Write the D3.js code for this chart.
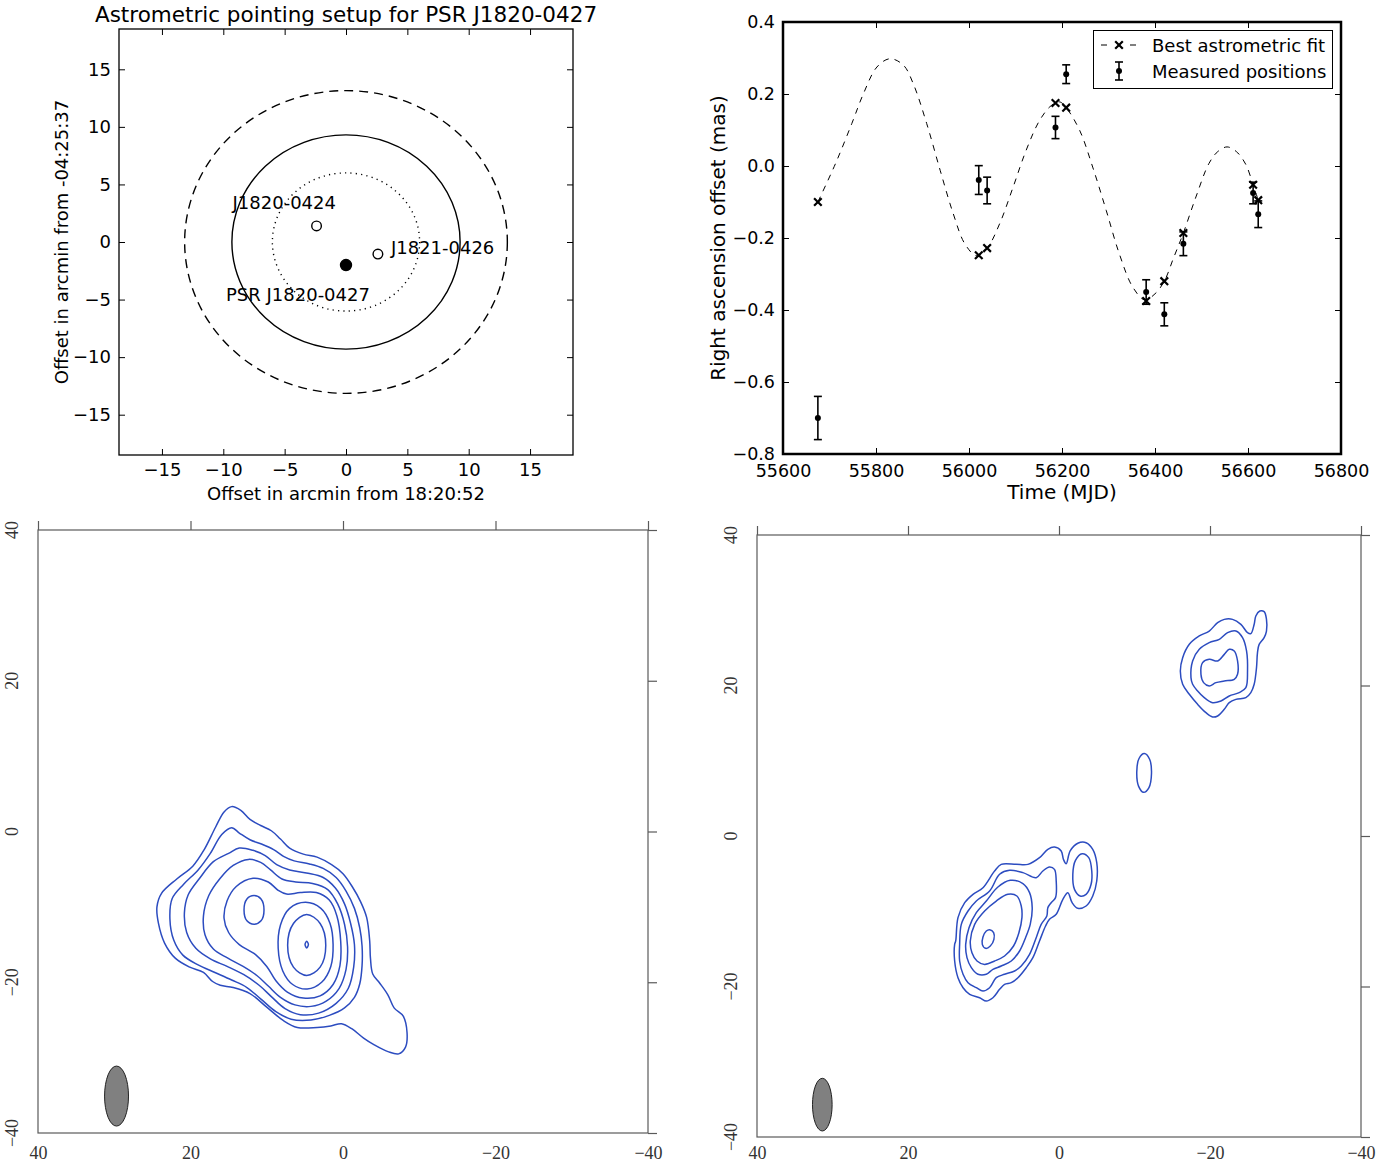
<!DOCTYPE html>
<html><head><meta charset="utf-8">
<script src="https://cdn.jsdelivr.net/npm/d3@7"></script>
<style>body{margin:0;background:#fff}svg{display:block}</style>
</head><body>
<svg id="c" width="1393" height="1166"></svg>
<script>
// ================= DATA =================
// Panel 1: pointing setup
const pointingTicks = [-15,-10,-5,0,5,10,15];
const ringRadius = [13.15, 9.3, 6.0];            // outer, middle, inner beam rings (arcmin)
const sourceNames = ["PSR J1820-0427","J1820-0424","J1821-0426"];
const sourceX = [0.0, -2.4, 2.6];
const sourceY = [-2.0, 1.4, -1.05];

// Panel 2: astrometric fit
const mjdTicks = [55600,55800,56000,56200,56400,56600,56800];
const raTicks = [0.4,0.2,0.0,-0.2,-0.4,-0.6,-0.8];
const epochMJD    = [55675,56021,56039,56186,56209,56381,56420,56461,56611,56622];
const measuredRA  = [-0.700,-0.039,-0.068,0.107,0.255,-0.350,-0.412,-0.216,-0.075,-0.134];
const measuredErr = [0.060,0.040,0.037,0.031,0.026,0.034,0.032,0.033,0.030,0.037];
const fitRA       = [-0.100,-0.248,-0.228,0.175,0.162,-0.375,-0.320,-0.186,-0.052,-0.095];
const curveMJD = [55675,55713,55748,55773,55802,55830,55859,55880,55909,55938,55966,55991,56016,56039,56066,56095,56123,56152,56177,56195,56209,56238,56266,56295,56323,56352,56378,56400,56420,56440,56461,56488,56516,56535,56555,56575,56595,56611,56622];
const curveRA  = [-0.100,0.007,0.118,0.201,0.275,0.298,0.280,0.229,0.118,-0.012,-0.132,-0.216,-0.249,-0.228,-0.160,-0.058,0.044,0.127,0.168,0.178,0.162,0.099,-0.003,-0.123,-0.243,-0.336,-0.372,-0.355,-0.320,-0.255,-0.186,-0.086,0.007,0.040,0.053,0.040,0.005,-0.052,-0.095];

// Panels 3 & 4: contour maps (mas offsets)
const mapTicks = [40,20,0,-20,-40];
const leftContours = [
  [[14.6,3.3],[13.4,2.8],[12.2,1.6],[10.8,0.8],[9.4,0.1],[8.2,-1.0],[7.0,-2.2],[5.2,-3.0],[3.4,-3.4],[1.5,-4.4],[0.0,-5.6],[-1.2,-7.3],[-2.3,-9.3],[-3.1,-11.4],[-3.5,-14.5],[-3.6,-16.8],[-3.9,-18.9],[-4.8,-20.1],[-5.9,-21.7],[-6.7,-23.4],[-7.9,-24.5],[-8.4,-26.7],[-8.2,-28.6],[-7.3,-29.5],[-5.9,-29.2],[-4.1,-28.3],[-2.7,-27.4],[-1.2,-26.2],[0.2,-25.5],[1.6,-25.8],[3.4,-26.0],[6.0,-26.0],[7.8,-25.1],[10.0,-23.3],[12.2,-21.5],[14.4,-20.7],[16.1,-20.4],[17.1,-19.9],[18.3,-18.7],[20.1,-18.0],[22.0,-16.8],[23.4,-14.8],[24.2,-12.2],[24.4,-10.0],[23.8,-8.2],[21.8,-6.3],[19.7,-4.6],[18.2,-2.4],[16.7,0.6],[15.6,2.6]],
  [[14.6,0.5],[13.6,-0.2],[12.2,-1.1],[10.6,-1.7],[9.1,-2.4],[7.8,-3.3],[6.4,-3.9],[4.4,-4.3],[2.6,-4.9],[0.9,-6.1],[-0.4,-7.9],[-1.5,-10.2],[-2.2,-12.8],[-2.5,-15.2],[-2.5,-17.8],[-2.2,-20.2],[-1.5,-22.0],[-0.2,-23.4],[1.8,-24.4],[4.2,-25.0],[6.8,-24.9],[8.8,-23.9],[10.8,-22.2],[12.6,-20.7],[14.6,-19.7],[16.8,-18.7],[19.0,-17.7],[21.0,-16.4],[22.2,-14.4],[22.7,-11.6],[22.4,-8.9],[20.9,-7.0],[19.0,-5.1],[17.4,-2.9],[15.9,-0.4]],
  [[15.0,-2.9],[13.6,-2.2],[11.8,-2.5],[10.2,-3.2],[8.7,-4.4],[7.0,-5.1],[4.8,-5.5],[2.6,-6.1],[1.0,-7.5],[-0.2,-9.6],[-1.0,-12.2],[-1.5,-15.0],[-1.4,-18.0],[-0.7,-20.8],[0.9,-22.8],[3.2,-24.1],[5.6,-24.3],[7.6,-23.5],[9.4,-21.9],[11.0,-20.4],[13.0,-19.0],[15.2,-17.9],[17.4,-16.9],[19.3,-15.5],[20.5,-13.4],[20.8,-10.8],[20.3,-8.4],[18.8,-6.2],[17.0,-4.0]],
  [[12.4,-3.7],[10.8,-4.1],[9.5,-5.1],[8.0,-6.3],[6.2,-6.7],[4.0,-6.9],[2.0,-7.7],[0.7,-9.6],[-0.2,-12.3],[-0.6,-15.3],[-0.4,-18.3],[0.5,-20.8],[2.2,-22.5],[4.2,-23.2],[6.3,-23.0],[8.2,-22.0],[9.8,-20.5],[11.3,-19.1],[13.1,-17.9],[15.1,-16.8],[17.0,-15.6],[18.1,-13.7],[18.3,-11.2],[17.6,-8.5],[16.1,-6.2],[14.4,-4.5]],
  [[15.6,-11.5],[15.2,-9.2],[14.0,-7.3],[11.8,-6.2],[9.8,-6.7],[8.5,-7.8],[7.4,-8.3],[5.6,-8.1],[3.5,-8.1],[1.8,-9.1],[0.8,-11.2],[0.3,-14.6],[0.4,-17.8],[1.3,-20.3],[3.0,-21.8],[5.2,-22.1],[7.3,-21.3],[8.8,-19.8],[10.0,-17.9],[11.5,-16.3],[13.6,-15.0],[15.0,-13.4]],
  [[11.67,-8.5],[10.75,-8.95],[10.36,-10.4],[10.75,-11.85],[11.67,-12.3],[12.6,-11.85],[12.98,-10.4],[12.6,-8.95]],
  [[4.9,-9.4],[2.9,-10.2],[1.7,-12.2],[1.3,-15.0],[1.6,-17.9],[2.8,-20.0],[4.7,-20.9],[6.6,-20.3],[7.9,-18.5],[8.5,-15.5],[8.2,-12.4],[7.0,-10.2]],
  [[4.76,-11.0],[3.0,-12.2],[2.26,-15.1],[3.0,-18.0],[4.76,-19.1],[6.5,-18.0],[7.26,-15.1],[6.5,-12.2]],
  [[4.76,-14.56],[4.54,-15.0],[4.76,-15.44],[4.98,-15.0]]
];
const leftBeam = [29.7, -35.1, 1.57, 3.98];   // centre x, centre y, semi-axis x, semi-axis y (mas)

const rightContours = [
  [[13.68,-13.95],[13.38,-10.85],[12.49,-8.86],[11.39,-7.75],[10.07,-6.87],[8.53,-4.65],[7.65,-3.77],[5.66,-3.77],[4.12,-3.77],[2.58,-2.88],[1.48,-1.77],[0.60,-1.46],[-0.29,-1.99],[-0.59,-3.10],[-0.95,-3.68],[-1.48,-1.99],[-2.49,-0.97],[-3.59,-0.89],[-4.47,-1.77],[-5.00,-3.54],[-5.00,-5.98],[-4.47,-7.97],[-3.59,-9.30],[-2.49,-9.61],[-1.74,-8.86],[-1.17,-7.53],[-0.51,-8.42],[0.37,-10.41],[1.26,-11.07],[1.78,-11.96],[2.58,-13.95],[3.46,-16.17],[4.34,-17.50],[5.44,-18.83],[6.32,-19.49],[7.21,-19.71],[7.87,-20.38],[8.75,-21.49],[9.63,-21.93],[10.51,-21.49],[11.83,-21.04],[12.71,-20.16],[13.38,-18.83],[13.82,-16.61],[13.82,-14.40]],
  [[13.16,-14.40],[12.94,-11.74],[12.05,-9.97],[10.95,-8.64],[9.19,-7.31],[7.87,-5.09],[6.54,-4.56],[4.78,-4.87],[3.02,-5.54],[2.14,-4.65],[1.26,-4.12],[0.60,-4.43],[0.37,-5.98],[0.46,-8.19],[1.04,-8.86],[1.48,-9.52],[1.61,-10.63],[2.36,-11.74],[3.02,-13.51],[3.90,-15.73],[5.00,-17.28],[5.88,-17.94],[7.21,-18.38],[8.31,-18.83],[9.19,-20.16],[10.07,-20.60],[10.95,-20.16],[12.05,-19.49],[12.71,-18.38],[13.16,-16.61]],
  [[12.36,-14.40],[11.92,-12.18],[10.95,-10.19],[9.63,-8.64],[8.09,-6.78],[6.46,-5.89],[4.78,-6.33],[3.90,-7.53],[3.55,-9.52],[3.81,-11.74],[4.43,-13.51],[5.22,-15.28],[6.32,-16.61],[7.65,-17.28],[8.75,-17.72],[9.63,-18.38],[10.73,-18.38],[11.61,-17.50],[12.19,-16.17]],
  [[11.75,-13.95],[11.17,-11.74],[9.85,-9.97],[8.31,-8.64],[6.77,-7.75],[5.58,-7.97],[5.00,-9.30],[4.91,-10.85],[5.31,-12.85],[6.02,-14.62],[7.21,-15.95],[8.53,-16.61],[9.85,-17.06],[10.86,-16.61],[11.53,-15.51]],
  [[9.19,-12.45],[8.66,-12.85],[8.62,-13.73],[9.10,-14.62],[9.72,-14.93],[10.16,-14.40],[10.07,-13.42],[9.63,-12.63]],
  [[-3.06,-2.35],[-3.94,-2.88],[-4.34,-4.65],[-4.25,-6.42],[-3.59,-7.75],[-2.80,-7.97],[-2.05,-7.09],[-1.83,-5.09],[-2.18,-3.23]],
  [[-11.3,10.95],[-10.6,10.3],[-10.3,8.5],[-10.55,6.6],[-11.2,5.8],[-11.9,6.4],[-12.25,8.3],[-12.0,10.2]],
  [[-16.07,21.93],[-16.38,23.70],[-17.26,25.47],[-18.58,26.58],[-19.90,27.24],[-21.01,28.35],[-21.89,28.79],[-22.99,28.79],[-24.09,28.13],[-24.97,27.02],[-25.41,26.89],[-25.85,28.13],[-26.07,29.24],[-26.60,29.90],[-27.17,29.81],[-27.48,28.79],[-27.48,27.24],[-27.17,26.36],[-26.51,25.47],[-26.29,24.37],[-26.16,22.37],[-25.85,20.16],[-25.41,19.05],[-24.75,18.39],[-23.43,18.16],[-22.55,17.72],[-21.89,16.83],[-21.01,15.95],[-20.34,15.82],[-19.46,16.39],[-18.36,17.50],[-17.26,18.83],[-16.38,20.16]],
  [[-17.48,21.04],[-17.70,23.26],[-18.58,24.81],[-19.90,25.69],[-21.23,26.14],[-22.33,27.02],[-23.43,27.24],[-24.31,26.36],[-24.84,24.59],[-24.97,21.93],[-24.75,19.71],[-23.87,19.05],[-22.55,18.61],[-21.45,17.94],[-20.34,17.72],[-19.24,18.39],[-18.36,19.27],[-17.70,20.16]],
  [[-18.80,21.49],[-19.02,23.04],[-19.90,23.48],[-21.01,23.26],[-21.89,24.14],[-22.55,24.81],[-23.21,24.59],[-23.65,23.26],[-23.65,21.49],[-23.21,20.82],[-21.89,20.60],[-20.78,20.38],[-19.90,19.94],[-19.15,20.38]]
];
const rightBeam = [31.35, -35.7, 1.3, 3.5];

// ================= DRAWING =================
const svg = d3.select("#c");
const SANS = "'DejaVu Sans', 'Bitstream Vera Sans', sans-serif";
const SERIF = "'Liberation Serif', 'DejaVu Serif', serif";
const fmtInt = d3.format("d");

function styleAxis(g, size) {
  g.select(".domain").remove();
  g.selectAll("line").attr("stroke", "#000").attr("stroke-width", 1);
  g.selectAll("text").attr("font-family", SANS).attr("font-size", size).attr("fill", "#000");
}

// ---------- Panel 1 ----------
(function () {
  const L = 119, R = 573, T = 29, B = 455;
  const x = d3.scaleLinear([-18.5, 18.5], [L, R]);
  const y = d3.scaleLinear([-18.5, 18.5], [B, T]);
  const g = svg.append("g");

  g.append("g").attr("transform", `translate(0,${B})`)
    .call(d3.axisBottom(x).tickValues(pointingTicks).tickSize(-6).tickPadding(8).tickFormat(fmtInt))
    .call(a => styleAxis(a, 18));
  g.append("g").attr("transform", `translate(0,${T})`)
    .call(d3.axisTop(x).tickValues(pointingTicks).tickSize(-6).tickFormat(""))
    .call(a => styleAxis(a, 18));
  g.append("g").attr("transform", `translate(${L},0)`)
    .call(d3.axisLeft(y).tickValues(pointingTicks).tickSize(-6).tickPadding(8).tickFormat(fmtInt))
    .call(a => styleAxis(a, 18));
  g.append("g").attr("transform", `translate(${R},0)`)
    .call(d3.axisRight(y).tickValues(pointingTicks).tickSize(-6).tickFormat(""))
    .call(a => styleAxis(a, 18));

  g.append("rect").attr("x", L).attr("y", T).attr("width", R - L).attr("height", B - T)
    .attr("fill", "none").attr("stroke", "#000").attr("stroke-width", 1.3);

  const dashes = ["9,6", null, "1.2,4.2"];
  ringRadius.forEach((r, i) => {
    g.append("ellipse").attr("cx", x(0)).attr("cy", y(0))
      .attr("rx", x(r) - x(0)).attr("ry", y(0) - y(r))
      .attr("fill", "none").attr("stroke", "#000").attr("stroke-width", 1.4)
      .attr("stroke-dasharray", dashes[i]);
  });

  const labelOff = [[-120, 36], [-84, -17], [13, 0]];
  sourceNames.forEach((n, i) => {
    const cx = x(sourceX[i]), cy = y(sourceY[i]);
    g.append("circle").attr("cx", cx).attr("cy", cy).attr("r", i === 0 ? 5.5 : 4.8)
      .attr("fill", i === 0 ? "#000" : "#fff").attr("stroke", "#000").attr("stroke-width", 1.4);
    g.append("text").attr("x", cx + labelOff[i][0]).attr("y", cy + labelOff[i][1])
      .attr("font-family", SANS).attr("font-size", 18).text(n);
  });

  g.append("text").attr("x", (L + R) / 2).attr("y", 22).attr("text-anchor", "middle")
    .attr("font-family", SANS).attr("font-size", 21.5).text("Astrometric pointing setup for PSR J1820-0427");
  g.append("text").attr("x", (L + R) / 2).attr("y", 500).attr("text-anchor", "middle")
    .attr("font-family", SANS).attr("font-size", 18).text("Offset in arcmin from 18:20:52");
  g.append("text").attr("transform", `translate(68,${(T + B) / 2}) rotate(-90)`).attr("text-anchor", "middle")
    .attr("font-family", SANS).attr("font-size", 18).text("Offset in arcmin from -04:25:37");
})();

// ---------- Panel 2 ----------
(function () {
  const L = 783, R = 1341, T = 22, B = 454;
  const x = d3.scaleLinear([55600, 56800], [L, R]);
  const y = d3.scaleLinear([-0.8, 0.4], [B, T]);
  const g = svg.append("g");
  const fmtY = d3.format(".1f");

  g.append("g").attr("transform", `translate(0,${B})`)
    .call(d3.axisBottom(x).tickValues(mjdTicks).tickSize(-6).tickPadding(11).tickFormat(fmtInt))
    .call(a => styleAxis(a, 17.5));
  g.append("g").attr("transform", `translate(0,${T})`)
    .call(d3.axisTop(x).tickValues(mjdTicks).tickSize(-6).tickFormat(""))
    .call(a => styleAxis(a, 18));
  g.append("g").attr("transform", `translate(${L},0)`)
    .call(d3.axisLeft(y).tickValues(raTicks).tickSize(-6).tickPadding(8).tickFormat(fmtY))
    .call(a => styleAxis(a, 17.5));
  g.append("g").attr("transform", `translate(${R},0)`)
    .call(d3.axisRight(y).tickValues(raTicks).tickSize(-6).tickFormat(""))
    .call(a => styleAxis(a, 18));

  // fit curve
  const line = d3.line().x((d, i) => x(curveMJD[i])).y(d => y(d)).curve(d3.curveCatmullRom.alpha(0.5));
  g.append("path").attr("d", line(curveRA)).attr("fill", "none").attr("stroke", "#000")
    .attr("stroke-width", 1).attr("stroke-dasharray", "6,6");

  // measured with error bars
  epochMJD.forEach((m, i) => {
    const cx = x(m), y0 = y(measuredRA[i] + measuredErr[i]), y1 = y(measuredRA[i] - measuredErr[i]);
    g.append("line").attr("x1", cx).attr("x2", cx).attr("y1", y0).attr("y2", y1).attr("stroke", "#000").attr("stroke-width", 1.6);
    [y0, y1].forEach(yy => g.append("line").attr("x1", cx - 4).attr("x2", cx + 4).attr("y1", yy).attr("y2", yy).attr("stroke", "#000").attr("stroke-width", 1.6));
    g.append("circle").attr("cx", cx).attr("cy", y(measuredRA[i])).attr("r", 3).attr("fill", "#000");
  });
  // fitted positions
  const xm = "M-3.8,-3.8L3.8,3.8M-3.8,3.8L3.8,-3.8";
  epochMJD.forEach((m, i) => {
    g.append("path").attr("d", xm).attr("transform", `translate(${x(m)},${y(fitRA[i])})`)
      .attr("stroke", "#000").attr("stroke-width", 2.2).attr("fill", "none");
  });

  g.append("rect").attr("x", L).attr("y", T).attr("width", R - L).attr("height", B - T)
    .attr("fill", "none").attr("stroke", "#000").attr("stroke-width", 2.5);

  // legend
  const lg = g.append("g");
  lg.append("rect").attr("x", 1093.5).attr("y", 30.5).attr("width", 239).attr("height", 58)
    .attr("fill", "#fff").attr("stroke", "#000").attr("stroke-width", 1);
  [[1101, 1107], [1130, 1136]].forEach(s => lg.append("line").attr("x1", s[0]).attr("x2", s[1]).attr("y1", 45).attr("y2", 45).attr("stroke", "#000").attr("stroke-width", 1));
  lg.append("path").attr("d", xm).attr("transform", "translate(1119,45)").attr("stroke", "#000").attr("stroke-width", 2.2).attr("fill", "none");
  lg.append("line").attr("x1", 1119).attr("x2", 1119).attr("y1", 62).attr("y2", 80).attr("stroke", "#000").attr("stroke-width", 1.6);
  [62, 80].forEach(yy => lg.append("line").attr("x1", 1115).attr("x2", 1123).attr("y1", yy).attr("y2", yy).attr("stroke", "#000").attr("stroke-width", 1.6));
  lg.append("circle").attr("cx", 1119).attr("cy", 71).attr("r", 3).attr("fill", "#000");
  lg.append("text").attr("x", 1152).attr("y", 51.5).attr("font-family", SANS).attr("font-size", 18).text("Best astrometric fit");
  lg.append("text").attr("x", 1152).attr("y", 77.5).attr("font-family", SANS).attr("font-size", 18).text("Measured positions");

  g.append("text").attr("x", (L + R) / 2).attr("y", 499).attr("text-anchor", "middle")
    .attr("font-family", SANS).attr("font-size", 20).text("Time (MJD)");
  g.append("text").attr("transform", `translate(725,${(T + B) / 2}) rotate(-90)`).attr("text-anchor", "middle")
    .attr("font-family", SANS).attr("font-size", 20).text("Right ascension offset (mas)");
})();

// ---------- Panels 3 & 4 ----------
function mapPanel(box, contours, beam, pad) {
  const { L, R, T, B } = box;
  const x = d3.scaleLinear([40, -40], [L, R]);
  const y = d3.scaleLinear([-40, 40], [B, T]);
  const g = svg.append("g");
  const frameCol = "#5a5a5a";
  const fmt = d3.format("d");

  // frame
  g.append("rect").attr("x", L).attr("y", T).attr("width", R - L).attr("height", B - T)
    .attr("fill", "none").attr("stroke", frameCol).attr("stroke-width", 1.2);
  // outward ticks on top and right
  g.append("g").attr("transform", `translate(0,${T})`)
    .call(d3.axisTop(x).tickValues(mapTicks).tickSize(9).tickFormat(""))
    .call(a => { a.select(".domain").remove(); a.selectAll("line").attr("stroke", frameCol).attr("stroke-width", 1.2); });
  g.append("g").attr("transform", `translate(${R},0)`)
    .call(d3.axisRight(y).tickValues(mapTicks).tickSize(9).tickFormat(""))
    .call(a => { a.select(".domain").remove(); a.selectAll("line").attr("stroke", frameCol).attr("stroke-width", 1.2); });
  // labels
  g.append("g").attr("transform", `translate(0,${B})`)
    .call(d3.axisBottom(x).tickValues(mapTicks).tickSize(0).tickPadding(pad).tickFormat(fmt))
    .call(a => { a.select(".domain").remove(); a.selectAll("text").attr("font-family", SERIF).attr("font-size", 18).attr("fill", "#333"); });
  mapTicks.forEach(v => {
    g.append("text").attr("transform", `translate(${L - 20},${y(v)}) rotate(-90)`)
      .attr("text-anchor", "middle").attr("font-family", SERIF).attr("font-size", 18).attr("fill", "#333")
      .text(fmt(v));
  });

  // beam
  g.append("ellipse").attr("cx", x(beam[0])).attr("cy", y(beam[1]))
    .attr("rx", x(0) - x(beam[2])).attr("ry", y(0) - y(beam[3]))
    .attr("fill", "#808080").attr("stroke", "#222").attr("stroke-width", 1);

  // contours
  const line = d3.line().x(d => x(d[0])).y(d => y(d[1])).curve(d3.curveCatmullRomClosed.alpha(0.5));
  g.selectAll("path.ct").data(contours).join("path").attr("class", "ct")
    .attr("d", line).attr("fill", "none").attr("stroke", "#2c4cc0").attr("stroke-width", 1.5);
}
mapPanel({ L: 38, R: 648, T: 530, B: 1133 }, leftContours, leftBeam, 13);
mapPanel({ L: 757, R: 1361, T: 535, B: 1137 }, rightContours, rightBeam, 9);
</script>
</body></html>
